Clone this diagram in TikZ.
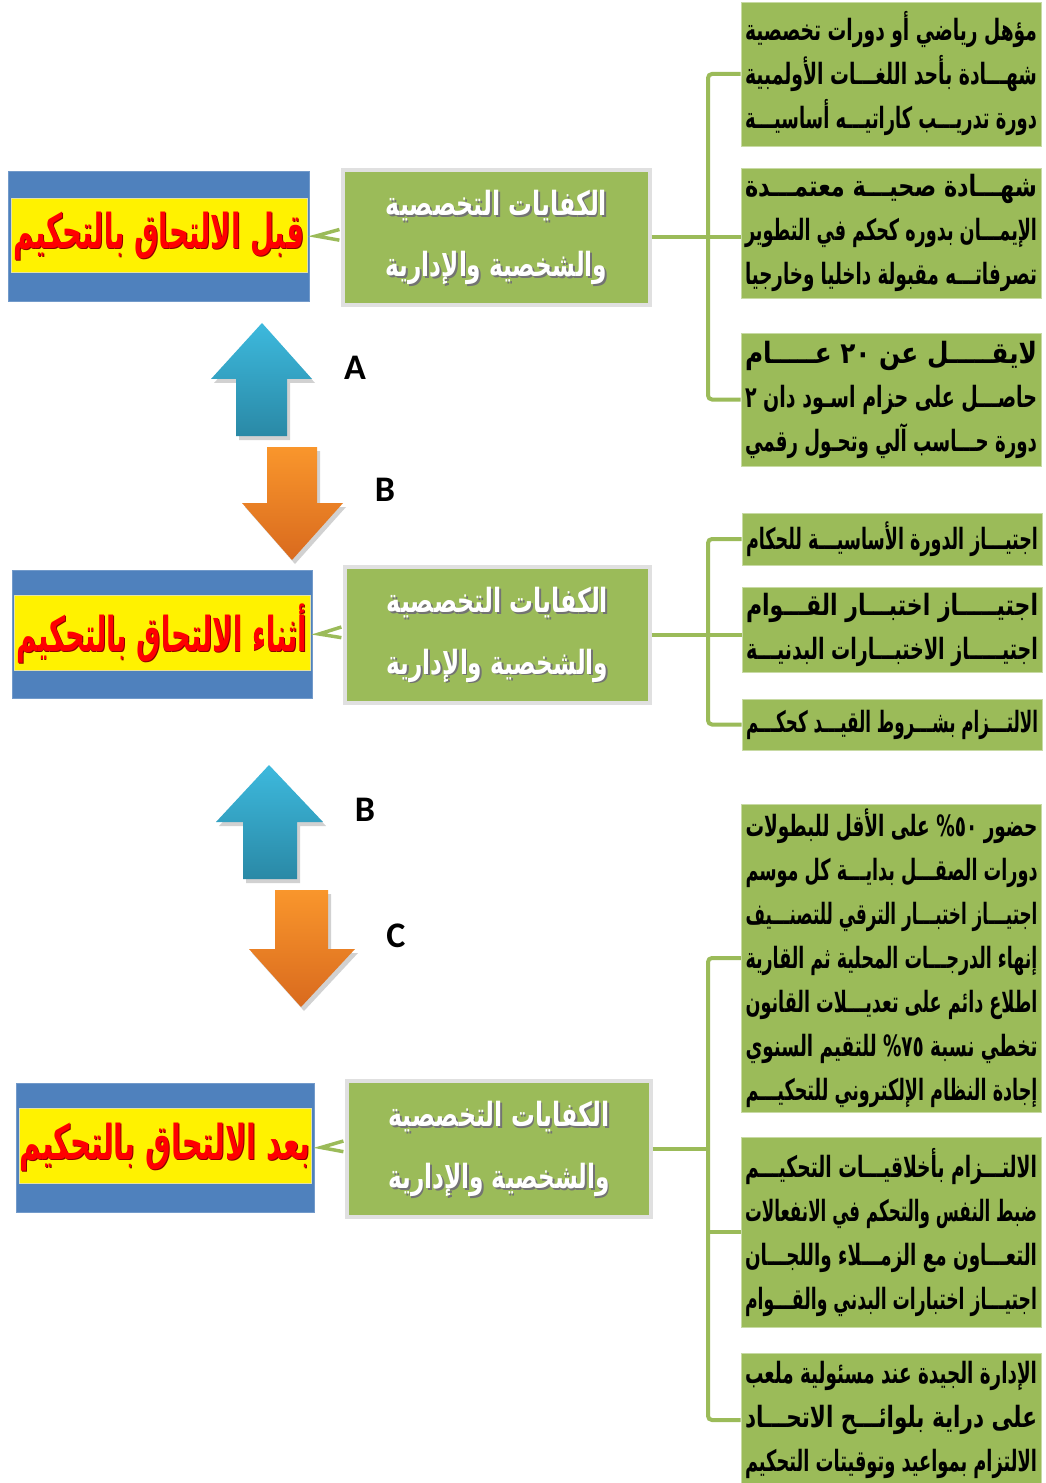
\documentclass[tikz,border=0pt]{standalone}
\usepackage{fontspec}
\usepackage{graphicx}
\setmainfont{Carlito}
\newfontfamily\ar[Script=Arabic]{DejaVu Sans}
\TeXXeTstate=1
\definecolor{hdrblue}{HTML}{4F81BD}
\definecolor{grn}{HTML}{9BBB59}
\definecolor{abluetop}{HTML}{3DB9DD}
\definecolor{ablubot}{HTML}{2A89A6}
\definecolor{aorgtop}{HTML}{F9962C}
\definecolor{aorgbot}{HTML}{D96A1E}
\newlength\fith
\newcommand\fitline[2]{\setbox0=\hbox{\beginR #2\endR}\setlength\fith{\ht0}\resizebox{#1}{\fith}{\copy0}}
\newcommand\RL[1]{\fitline{219pt}{#1}}
\newcommand\ML[1]{\fitline{166pt}{#1}}
\newcommand\TL[1]{\fitline{218pt}{#1}}
\tikzset{
  rbox/.style={draw=grn!55!white, line width=0.6pt, fill=grn, inner sep=0pt, align=center,
    minimum width=225pt, font=\ar\bfseries\fontsize{22}{33}\selectfont},
  mbox/.style={draw=black!12, line width=2.4pt, fill=grn, inner sep=0pt},
  mtxt/.style={align=center, inner sep=0pt, font=\ar\bfseries\fontsize{25}{46}\selectfont},
  bluebox/.style={fill=hdrblue, draw=hdrblue!80!white, line width=0.4pt, inner sep=0pt},
  yelband/.style={fill=yellow, draw=yellow!70!black!40!white, line width=0.4pt, inner sep=0pt},
  ttxt/.style={text=red, inner sep=0pt, font=\ar\bfseries\fontsize{36}{40}\selectfont},
  conn/.style={draw=grn, line width=3pt},
  lbl/.style={font=\bfseries\fontsize{27}{30}\selectfont, inner sep=0pt},
  upar/.style={top color=abluetop, bottom color=ablubot},
  dnar/.style={top color=aorgtop, bottom color=aorgbot},
  shad/.style={fill=black, opacity=0.18}
}
\begin{document}
\begin{tikzpicture}[x=0.75pt,y=-0.75pt]
\useasboundingbox (0,0) rectangle (1045,1483);
\fill[white] (0,0) rectangle (1045,1483);

% ---------- right boxes ----------
\node[rbox, minimum height=108pt] (r1) at (891,74) {\RL{مؤهل رياضي أو دورات تخصصية}\\\RL{شهـــادة بأحد اللغـــات الأولمبية}\\\RL{دورة تدريـــب كاراتيـــه أساسيـــة}};
\node[rbox, minimum height=97.5pt] (r2) at (891,233) {\RL{شهـــادة صحيـــة معتمـــدة}\\\RL{الإيمـــان بدوره كحكم في التطوير}\\\RL{تصرفاتـــه مقبولة داخليا وخارجيا}};
\node[rbox, minimum height=99.75pt] (r3) at (891,399.5) {\RL{لايقـــــل عن ٢٠ عـــــام}\\\RL{حاصـــل على حزام اسـود دان ٢}\\\RL{دورة حـــاسب آلي وتحـول رقمي}};
\node[rbox, minimum height=39pt] (r4) at (892,539) {\RL{اجتيـــاز الدورة الأساسيـــة للحكام}};
\node[rbox, minimum height=63.75pt] (r5) at (892,629.5) {\RL{اجتيـــــاز اختبـــار القـــوام}\\\RL{اجتيـــــاز الاختبـــارات البدنيـــة}};
\node[rbox, minimum height=38.25pt] (r6) at (892,724.5) {\RL{الالتـــزام بشـــروط القيـــد كحكـــم}};
\node[rbox, minimum height=231pt] (r7) at (891.5,958) {\RL{حضور ٥٠\% على الأقل للبطولات}\\\RL{دورات الصقـــل بدايـــة كل موسم}\\\RL{اجتيـــاز اختبـــار الترقي للتصنـــيف}\\\RL{إنهاء الدرجـــات المحلية ثم القارية}\\\RL{اطلاع دائم على تعديـــلات القانون}\\\RL{تخطي نسبة ٧٥\% للتقيم السنوي}\\\RL{إجادة النظام الإلكتروني للتحكيـــم}};
\node[rbox, minimum height=142.5pt] (r8) at (891,1232) {\RL{الالتـــزام بأخلاقيـــات التحكيـــم}\\\RL{ضبط النفس والتحكم في الانفعالات}\\\RL{التعـــاون مع الزمـــلاء واللجـــان}\\\RL{اجتيـــاز اختبارات البدني والقـــوام}};
\node[rbox, minimum height=100.5pt] (r9) at (891,1420) {\RL{الإدارة الجيدة عند مسئولية ملعب}\\\RL{على دراية بلوائـــح الاتحـــاد}\\\RL{الالتزام بمواعيد وتوقيتات التحكيم}};

% ---------- middle boxes ----------
\node[mbox, minimum width=230.25pt, minimum height=101.25pt] (m1) at (496.5,237.5) {};
\node[mbox, minimum width=228.75pt, minimum height=102pt] (m2) at (497.5,635) {};
\node[mbox, minimum width=228pt, minimum height=102pt] (m3) at (499,1149) {};
\foreach \m in {m1,m2,m3}{
  \node[mtxt, text=black!55, xshift=1.3pt, yshift=-1.3pt] at (\m) {\ML{الكفايات التخصصية}\\\ML{والشخصية والإدارية}};
  \node[mtxt, text=white] (\m txt) at (\m) {\ML{الكفايات التخصصية}\\\ML{والشخصية والإدارية}};
}

% ---------- title boxes ----------
\node[bluebox, minimum width=225.75pt, minimum height=97.5pt] (t1) at (158.5,236) {};
\node[yelband, minimum width=222pt, minimum height=55.5pt] (y1) at (159,235) {};
\node[ttxt, text=red!55!black, xshift=0.6pt, yshift=-0.6pt] at (159,236) {\TL{قبل الالتحاق بالتحكيم}};
\node[ttxt] (t1txt) at (159,236) {\TL{قبل الالتحاق بالتحكيم}};
\node[bluebox, minimum width=225pt, minimum height=96pt] (t2) at (162,634) {};
\node[yelband, minimum width=222pt, minimum height=56.25pt] (y2) at (162,632.5) {};
\node[ttxt, text=red!55!black, xshift=0.6pt, yshift=-0.6pt] at (162,634) {\TL{أثناء الالتحاق بالتحكيم}};
\node[ttxt] (t2txt) at (162,634) {\TL{أثناء الالتحاق بالتحكيم}};
\node[bluebox, minimum width=223.5pt, minimum height=96.75pt] (t3) at (165,1147.5) {};
\node[yelband, minimum width=219pt, minimum height=56.25pt] (y3) at (165.5,1145.5) {};
\node[ttxt, text=red!55!black, xshift=0.6pt, yshift=-0.6pt] at (165,1147) {\TL{بعد الالتحاق بالتحكيم}};
\node[ttxt] (t3txt) at (165,1147) {\TL{بعد الالتحاق بالتحكيم}};

% ---------- chevron connectors ----------
\foreach \m/\t in {m1/t1,m2/t2,m3/t3}{
  \draw[draw=grn, line width=2.6pt, line join=miter]
    ([xshift=-1.5pt,yshift=6pt]\m.west) -- ([xshift=5pt,yshift=0pt]\t.east) -- ([xshift=-1.5pt,yshift=-2pt]\m.west);
}

% ---------- brackets ----------
\coordinate (j1) at (708,237.5);
\coordinate (j2) at (708,635);
\coordinate (j3) at (708,1149);
\draw[conn] (m1.east) -- (j1);
\draw[conn, rounded corners=3pt] (r1.west) -| (j1) |- (r3.west);
\draw[conn] (j1) -- (j1 -| r2.west);
\draw[conn] (m2.east) -- (j2);
\draw[conn, rounded corners=3pt] (r4.west) -| (j2) |- (r6.west);
\draw[conn] (j2) -- (j2 -| r5.west);
\draw[conn] (m3.east) -- (j3);
\draw[conn, rounded corners=3pt] (r7.west) -| (j3) |- (r9.west);
\draw[conn] (j3 |- r8.west) -- (r8.west);

% ---------- arrows ----------
\fill[shad] (265,327) -- (315,383) -- (290,383) -- (290,440) -- (239,440) -- (239,383) -- (214,383) -- cycle;
\shade[upar] (262,323) -- (312,379) -- (287,379) -- (287,436) -- (236,436) -- (236,379) -- (211,379) -- cycle;
\fill[shad] (270,451) -- (320,451) -- (320,507) -- (346,507) -- (295,564) -- (245,507) -- (270,507) -- cycle;
\shade[dnar] (267,447) -- (317,447) -- (317,503) -- (343,503) -- (292,560) -- (242,503) -- (267,503) -- cycle;
\fill[shad] (272,769) -- (326,826) -- (300,826) -- (300,883) -- (246,883) -- (246,826) -- (219,826) -- cycle;
\shade[upar] (269,765) -- (323,822) -- (297,822) -- (297,879) -- (243,879) -- (243,822) -- (216,822) -- cycle;
\fill[shad] (278,894) -- (331,894) -- (331,953) -- (358,953) -- (304,1011) -- (252,953) -- (278,953) -- cycle;
\shade[dnar] (275,890) -- (328,890) -- (328,949) -- (355,949) -- (301,1007) -- (249,949) -- (275,949) -- cycle;

\node[lbl] (la) at (355,368) {A};
\node[lbl] (lb1) at (385,490) {B};
\node[lbl] (lb2) at (365,810) {B};
\node[lbl] (lc) at (396,936) {C};
\end{tikzpicture}
\end{document}
